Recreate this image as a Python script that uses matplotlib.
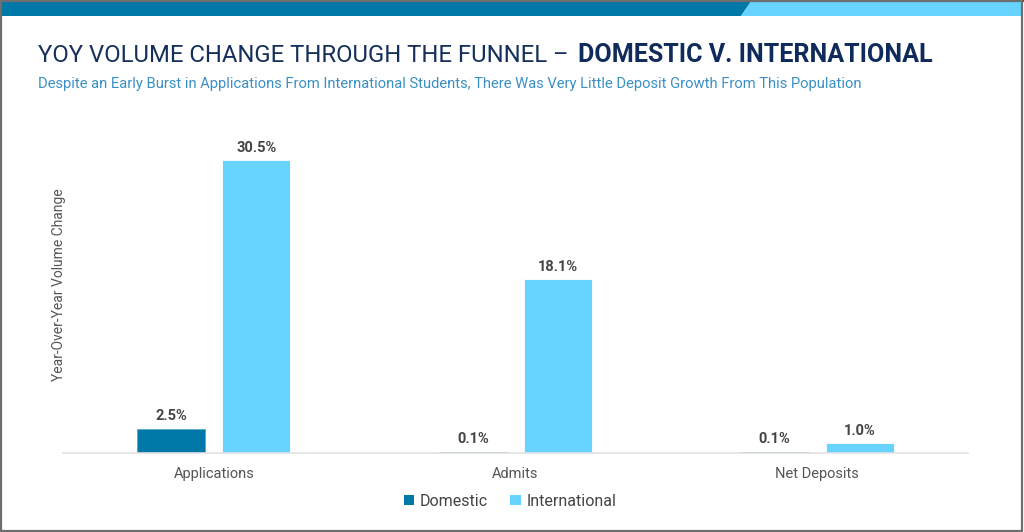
import matplotlib
matplotlib.use("Agg")
import matplotlib.pyplot as plt
import numpy as np
from matplotlib.patches import Patch, Polygon, Rectangle

categories = ["Applications", "Admits", "Net Deposits"]
domestic = [2.5, 0.1, 0.1]
international = [30.5, 18.1, 1.0]
series_names = ["Domestic", "International"]

title_left = "YOY VOLUME CHANGE THROUGH THE FUNNEL \u2013"
title_right = "DOMESTIC V. INTERNATIONAL"
subtitle = ("Despite an Early Burst in Applications From International Students, "
            "There Was Very Little Deposit Growth From This Population")
ylabel = "Year-Over-Year Volume Change"

DARK = "#0078a8"
LIGHT = "#66d4ff"
NAVY = "#15305a"
SUB = "#3a90c4"
GREY = "#555555"

W, H = 1024, 532
narrow = ["Liberation Sans Narrow", "Roboto", "DejaVu Sans"]
plain = ["Roboto", "DejaVu Sans"]

fig = plt.figure(figsize=(W / 100, H / 100), dpi=100)
fig.patch.set_facecolor("white")

# top band
fig.patches.append(Polygon([[0, 1 - 16 / H], [741 / W, 1 - 16 / H], [752 / W, 1],
                            [0, 1]], closed=True, transform=fig.transFigure,
                           facecolor=DARK, edgecolor="none"))
fig.patches.append(Polygon([[741 / W, 1 - 16 / H], [1022 / W, 1 - 16 / H],
                            [1022 / W, 1], [752 / W, 1]], closed=True,
                           transform=fig.transFigure, facecolor=LIGHT,
                           edgecolor="none"))
fig.patches.append(Rectangle((0, 1 - 1.5 / H), 1, 1.5 / H, transform=fig.transFigure,
                             facecolor="#2b5a73", edgecolor="none"))
# outer border
fig.patches.append(Rectangle((0.5 / W, 1.5 / H), 1 - 2.5 / W, 1 - 2 / H,
                             transform=fig.transFigure, facecolor="none",
                             edgecolor="#6e6e6e", linewidth=1.6))

ax = fig.add_axes([63 / W, 79 / H, 905 / W, (453 - 117) / H])
x = np.arange(len(categories))
bw = 0.225
off = 0.141
b1 = ax.bar(x - off, domestic, bw, color=DARK, edgecolor="#5ba9c8", linewidth=0.6)
b2 = ax.bar(x + off, international, bw, color=LIGHT, edgecolor="white", linewidth=0.6)

for bars, vals in [(b1, domestic), (b2, international)]:
    for rect, v in zip(bars, vals):
        ax.annotate(f"{v:.1f}%", (rect.get_x() + rect.get_width() / 2, v),
                    xytext=(0, 4), textcoords="offset points", ha="center",
                    va="bottom", fontsize=10.5, fontweight="semibold",
                    color="#444444", family=plain)

ax.set_xlim(-0.5, len(categories) - 0.5)
ax.set_ylim(0, 35)
ax.set_xticks(x)
ax.set_xticklabels(categories, fontsize=10.5, color=GREY, family=plain)
ax.tick_params(axis="x", length=0, pad=10)
ax.set_yticks([])
for s in ["top", "right", "left"]:
    ax.spines[s].set_visible(False)
ax.spines["bottom"].set_color("#e2e2e2")
ax.spines["bottom"].set_linewidth(1.2)
ax.set_ylabel(ylabel, fontsize=10, color=GREY, family=plain)
ax.yaxis.set_label_coords(0.003, 0.5)

handles = [Patch(facecolor=DARK), Patch(facecolor=LIGHT)]
fig.legend(handles, series_names, loc="center", bbox_to_anchor=(510 / W, 1 - 501 / H),
           ncol=2, frameon=False, handlelength=0.65, handleheight=0.65,
           handletextpad=0.35, columnspacing=1.4,
           prop={"family": plain, "size": 11.5}, labelcolor="#444444")

# titles, sized to fit the reference widths
t1 = fig.text(38 / W, 1 - 62 / H, title_left, fontsize=24, color=NAVY,
              family=narrow, va="baseline")
t2 = fig.text(578 / W, 1 - 62 / H, title_right, fontsize=24, color="#0f2b5b",
              family=narrow, fontweight="bold", va="baseline")
t3 = fig.text(38 / W, 1 - 88 / H, subtitle, fontsize=12, color=SUB,
              family=narrow, va="baseline")
fig.canvas.draw()
r = fig.canvas.get_renderer()
for t, target in [(t1, 532), (t2, 354), (t3, 822)]:
    wpx = t.get_window_extent(r).width
    t.set_fontsize(t.get_fontsize() * target / wpx)

fig.savefig("out.png", dpi=100, facecolor="white")
